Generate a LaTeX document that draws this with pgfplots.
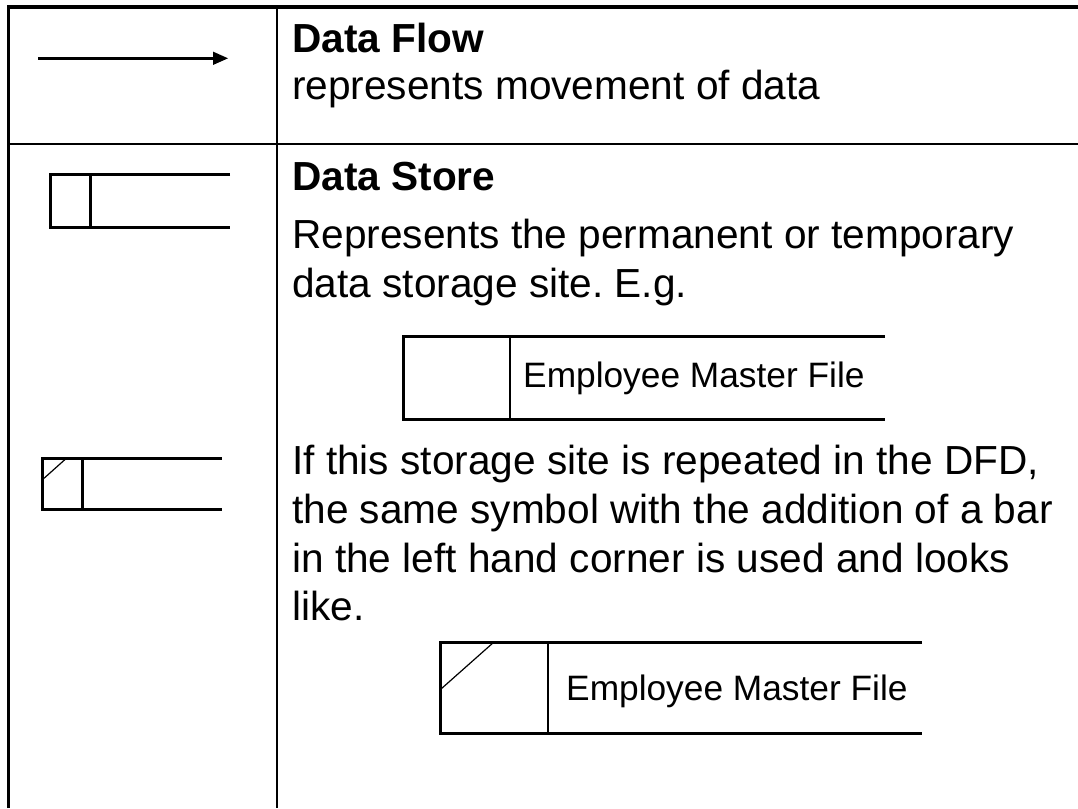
\documentclass[border=0pt]{standalone}
\usepackage{pgfplots}
\pgfplotsset{compat=1.18}
\usepackage{fontspec}
\setmainfont{Liberation Sans}
\frenchspacing
\tikzset{
  txt/.style={anchor=base west, inner sep=0pt, font=\fontsize{40.6bp}{48bp}\selectfont},
  btxt/.style={anchor=base west, inner sep=0pt, font=\fontsize{40.6bp}{48bp}\selectfont\bfseries},
  stxt/.style={anchor=base west, inner sep=0pt, font=\fontsize{35.3bp}{42bp}\selectfont}}
\begin{document}
\begin{tikzpicture}
\begin{axis}[name=ax, width=1078bp, height=808bp, scale only axis,
  xmin=0, xmax=1078, ymin=0, ymax=808, y dir=reverse,
  hide axis, clip=false,
  every axis plot/.append style={black, mark=none, line join=miter}]
% table frame
\addplot[line width=3.5bp] coordinates {(8.3,808) (8.3,7) (1078,7)};
\addplot[line width=1.5bp] coordinates {(277,7) (277,808)};
\addplot[line width=1.5bp] coordinates {(8,144) (1078,144)};
% data flow arrow
\addplot[line width=2.6bp] coordinates {(38,58.3) (214,58.3)};
\addplot[fill=black, draw=none] coordinates {(213,51.6) (228,58.3) (213,65) (213,51.6)};
% data store symbol
\addplot[line width=3bp] coordinates {(230,174) (50,174) (50,227.3) (230,227.3)};
\addplot[line width=3bp] coordinates {(90,174) (90,227.3)};
% duplicated data store symbol
\addplot[line width=3bp] coordinates {(221.7,458.3) (42.7,458.3) (42.7,509.3) (221.7,509.3)};
\addplot[line width=3bp] coordinates {(82.3,458.3) (82.3,509.3)};
\addplot[line width=1.2bp] coordinates {(44,478.3) (65,459.5)};
% example 1
\addplot[line width=3bp] coordinates {(885,336) (403,336) (403,419) (885,419)};
\addplot[line width=2.2bp] coordinates {(510,336) (510,419)};
% example 2
\addplot[line width=3bp] coordinates {(922,642) (440,642) (440,733) (922,733)};
\addplot[line width=2.2bp] coordinates {(548,642) (548,733)};
\addplot[line width=1.2bp] coordinates {(441,689) (494,642)};
% texts
\node[btxt] at (axis cs:292,53) {Data Flow};
\node[txt] at (axis cs:292,100) {represents movement of data};
\node[btxt] at (axis cs:292,190) {Data Store};
\node[txt] at (axis cs:292,248) {Represents the permanent or temporary};
\node[txt] at (axis cs:292,297) {data storage site. E.g.};
\node[stxt] at (axis cs:523,387) {Employee Master File};
\node[txt] at (axis cs:292,474) {If this storage site is repeated in the DFD,};
\node[txt] at (axis cs:292,523) {the same symbol with the addition of a bar};
\node[txt] at (axis cs:292,572) {in the left hand corner is used and looks};
\node[txt] at (axis cs:292,620) {like.};
\node[stxt] at (axis cs:566,700) {Employee Master File};
\end{axis}
\pgfresetboundingbox
\path (ax.south west) rectangle (ax.north east);
\end{tikzpicture}
\end{document}
